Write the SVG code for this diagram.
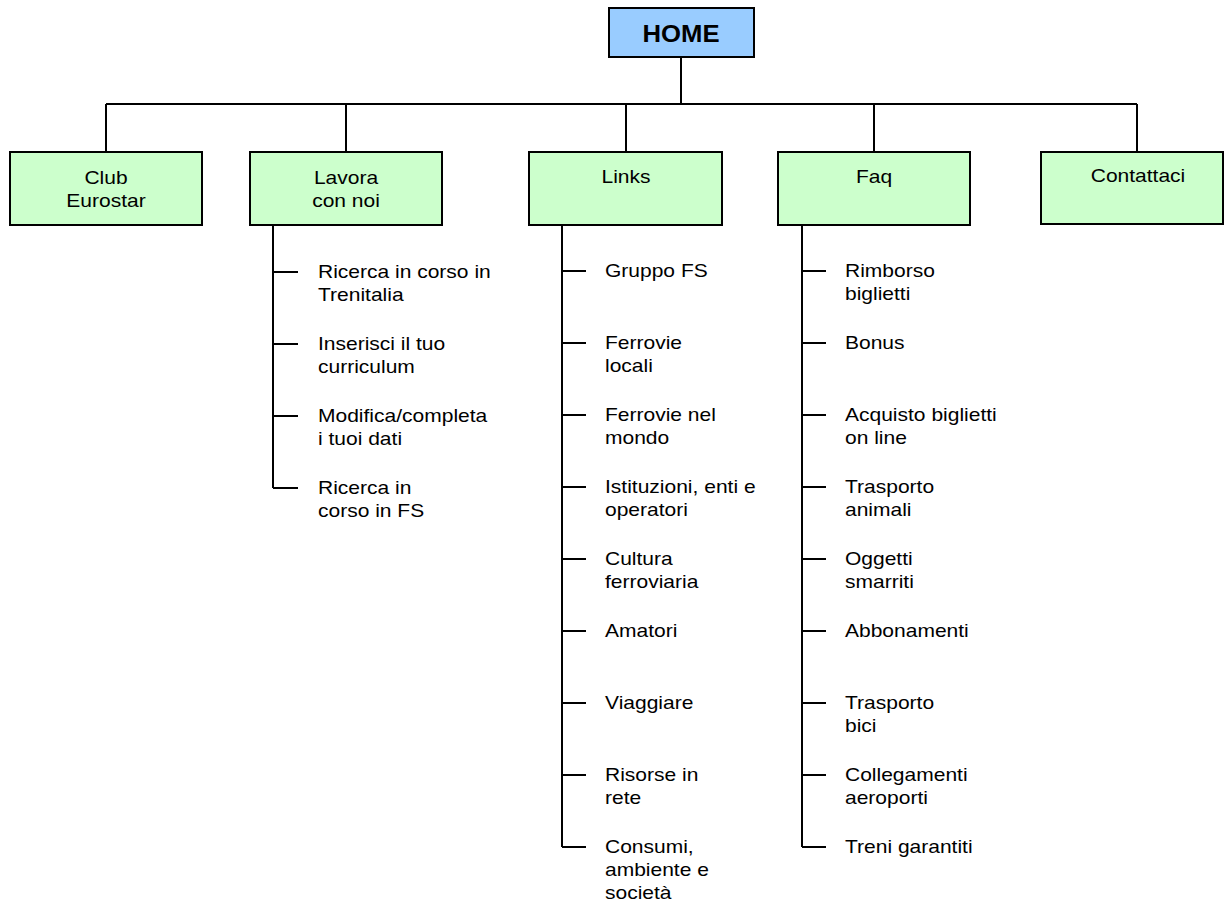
<svg xmlns="http://www.w3.org/2000/svg" width="1225" height="907" viewBox="0 0 1225 907">
<style>
.box{fill:#CCFFCC;stroke:#000;stroke-width:2}
.home{fill:#99CCFF;stroke:#000;stroke-width:2}
.ln{stroke:#000;stroke-width:2;fill:none}
.t{font-family:"Liberation Sans",Arial,sans-serif;font-size:18.6px;fill:#000}
.c{text-anchor:middle}
.hb{font-family:"Liberation Sans",Arial,sans-serif;font-size:24px;font-weight:bold;text-anchor:middle;fill:#000}
</style>
<rect width="1225" height="907" fill="#fff"/>
<g id="connectors" class="ln">
<path d="M681 57V104M106 104H1137M106 104V152M346 104V152M626 104V152M874 104V152M1137 104V152"/>
<path d="M273 225V488M273 272H298M273 344H298M273 416H298M273 488H298"/>
<path d="M562 225V847M562 271H586M562 343H586M562 415H586M562 487H586M562 559H586M562 631H586M562 703H586M562 775H586M562 847H586"/>
<path d="M802 225V847M802 271H826M802 343H826M802 415H826M802 487H826M802 559H826M802 631H826M802 703H826M802 775H826M802 847H826"/>
</g>
<g id="home"><rect class="home" x="609" y="8" width="145" height="49"/><text class="hb" transform="translate(681 42) scale(1.07 1)">HOME</text></g>
<g id="club"><rect class="box" x="10" y="152" width="192" height="73"/><text class="t c" transform="translate(106 184) scale(1.13 1)"><tspan x="0">Club</tspan><tspan x="0" dy="23">Eurostar</tspan></text></g>
<g id="lavora"><rect class="box" x="250" y="152" width="192" height="73"/><text class="t c" transform="translate(346 184) scale(1.13 1)"><tspan x="0">Lavora</tspan><tspan x="0" dy="23">con noi</tspan></text></g>
<g id="links"><rect class="box" x="529" y="152" width="193" height="73"/><text class="t c" transform="translate(626 183) scale(1.13 1)">Links</text></g>
<g id="faq"><rect class="box" x="778" y="152" width="192" height="73"/><text class="t c" transform="translate(874 183) scale(1.13 1)">Faq</text></g>
<g id="contattaci"><rect class="box" x="1041" y="152" width="182" height="72"/><text class="t c" transform="translate(1138 182) scale(1.13 1)">Contattaci</text></g>
<g id="lavora-items">
<text class="t" transform="translate(318 278) scale(1.13 1)"><tspan x="0">Ricerca in corso in</tspan><tspan x="0" dy="23">Trenitalia</tspan></text>
<text class="t" transform="translate(318 350) scale(1.13 1)"><tspan x="0">Inserisci il tuo</tspan><tspan x="0" dy="23">curriculum</tspan></text>
<text class="t" transform="translate(318 422) scale(1.13 1)"><tspan x="0">Modifica/completa</tspan><tspan x="0" dy="23">i tuoi dati</tspan></text>
<text class="t" transform="translate(318 494) scale(1.13 1)"><tspan x="0">Ricerca in</tspan><tspan x="0" dy="23">corso in FS</tspan></text>
</g>
<g id="links-items">
<text class="t" transform="translate(605 277) scale(1.13 1)">Gruppo FS</text>
<text class="t" transform="translate(605 349) scale(1.13 1)"><tspan x="0">Ferrovie</tspan><tspan x="0" dy="23">locali</tspan></text>
<text class="t" transform="translate(605 421) scale(1.13 1)"><tspan x="0">Ferrovie nel</tspan><tspan x="0" dy="23">mondo</tspan></text>
<text class="t" transform="translate(605 493) scale(1.13 1)"><tspan x="0">Istituzioni, enti e</tspan><tspan x="0" dy="23">operatori</tspan></text>
<text class="t" transform="translate(605 565) scale(1.13 1)"><tspan x="0">Cultura</tspan><tspan x="0" dy="23">ferroviaria</tspan></text>
<text class="t" transform="translate(605 637) scale(1.13 1)">Amatori</text>
<text class="t" transform="translate(605 709) scale(1.13 1)">Viaggiare</text>
<text class="t" transform="translate(605 781) scale(1.13 1)"><tspan x="0">Risorse in</tspan><tspan x="0" dy="23">rete</tspan></text>
<text class="t" transform="translate(605 853) scale(1.13 1)"><tspan x="0">Consumi,</tspan><tspan x="0" dy="23">ambiente e</tspan><tspan x="0" dy="23">società</tspan></text>
</g>
<g id="faq-items">
<text class="t" transform="translate(845 277) scale(1.13 1)"><tspan x="0">Rimborso</tspan><tspan x="0" dy="23">biglietti</tspan></text>
<text class="t" transform="translate(845 349) scale(1.13 1)">Bonus</text>
<text class="t" transform="translate(845 421) scale(1.13 1)"><tspan x="0">Acquisto biglietti</tspan><tspan x="0" dy="23">on line</tspan></text>
<text class="t" transform="translate(845 493) scale(1.13 1)"><tspan x="0">Trasporto</tspan><tspan x="0" dy="23">animali</tspan></text>
<text class="t" transform="translate(845 565) scale(1.13 1)"><tspan x="0">Oggetti</tspan><tspan x="0" dy="23">smarriti</tspan></text>
<text class="t" transform="translate(845 637) scale(1.13 1)">Abbonamenti</text>
<text class="t" transform="translate(845 709) scale(1.13 1)"><tspan x="0">Trasporto</tspan><tspan x="0" dy="23">bici</tspan></text>
<text class="t" transform="translate(845 781) scale(1.13 1)"><tspan x="0">Collegamenti</tspan><tspan x="0" dy="23">aeroporti</tspan></text>
<text class="t" transform="translate(845 853) scale(1.13 1)">Treni garantiti</text>
</g>
</svg>
